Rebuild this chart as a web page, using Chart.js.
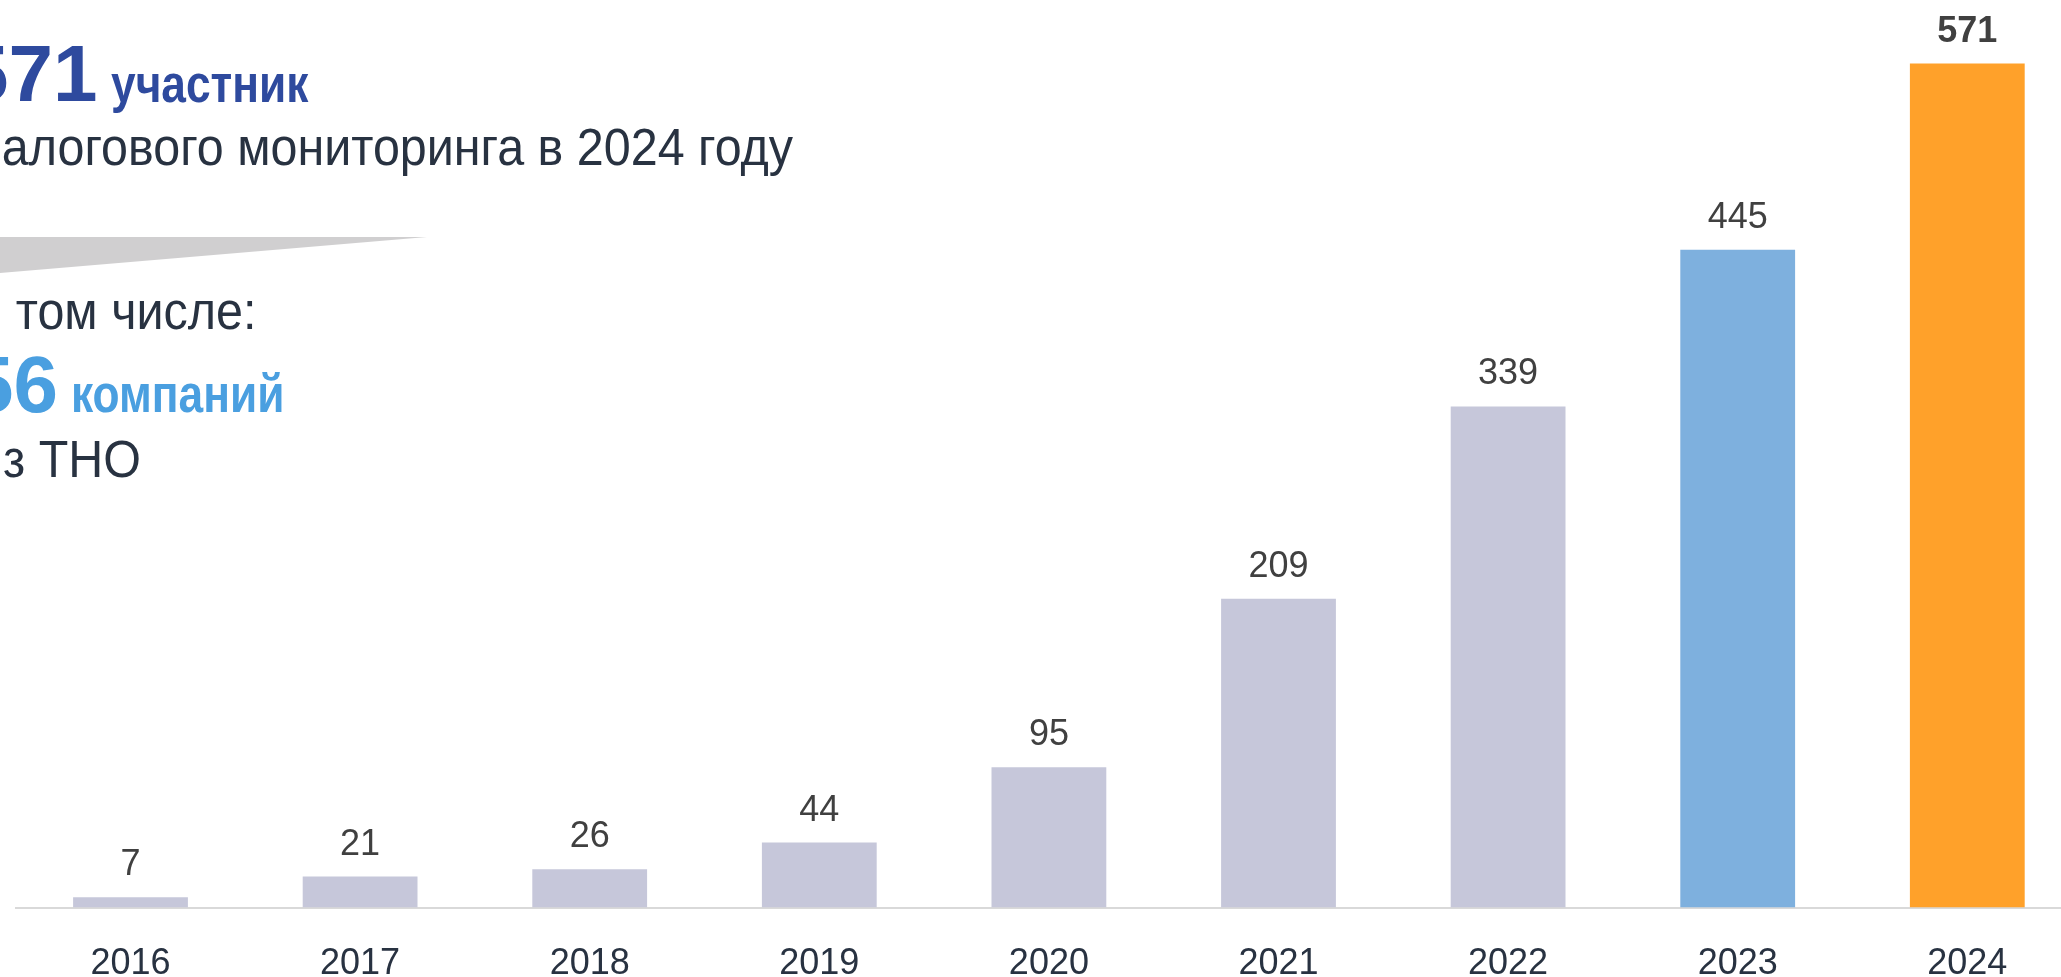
<!DOCTYPE html>
<html lang="ru">
<head>
<meta charset="utf-8">
<title>Участники налогового мониторинга</title>
<script src="https://cdn.jsdelivr.net/npm/chart.js@4.4.1/dist/chart.umd.min.js"></script>
<style>
  html, body { margin: 0; padding: 0; background: #fff; overflow: hidden; }
  body { width: 2061px; height: 977px; position: relative; font-family: 'Liberation Sans', Arial, sans-serif; }
  #chartWrap { position: absolute; left: 0; top: 0; width: 2100px; height: 1026px; }
  .note { position: absolute; white-space: nowrap; line-height: 1; transform-origin: 0 0; }
  .big { font-size: 80px; font-weight: bold; }
  .narrow { font-size: 54px; font-weight: bold; transform: scaleX(0.82); }
  .plain { font-size: 51px; color: #283241; transform: scaleX(0.95); }
  .navy { color: #2e4a9e; }
  .sky { color: #4a9fe0; }
  .wedge { position: absolute; left: 0; top: 237px; width: 427px; height: 36px; background: #d0cfd0;
           clip-path: polygon(0 0, 100% 0, 0 100%); }
</style>
</head>
<body>
  <div id="chartWrap"><canvas id="membersChart" width="2100" height="1026"></canvas></div>

  <span class="note big navy" style="left:-36px; top:34px;">571</span>
  <span class="note narrow navy" style="left:111px; top:56px;">участник</span>
  <span class="note plain" style="left:-25px; top:122px;">налогового мониторинга в 2024 году</span>
  <div class="wedge"></div>
  <span class="note plain" style="left:-30px; top:286px;">В том числе:</span>
  <span class="note big sky" style="left:-31px; top:345px;">56</span>
  <span class="note narrow sky" style="left:71px; top:366px;">компаний</span>
  <span class="note plain" style="left:-24px; top:434px;">из ТНО</span>

<script>
  // Участники налогового мониторинга по годам
  const YEARS = ['2016', '2017', '2018', '2019', '2020', '2021', '2022', '2023', '2024'];
  const MEMBERS = [7, 21, 26, 44, 95, 209, 339, 445, 571];

  const GRAY = '#c6c7da';
  const BLUE = '#7eb0de';
  const ORANGE = '#ffa12a';
  const FONT = "'Liberation Sans', Arial, sans-serif";

  function barColor(i) {
    if (i === MEMBERS.length - 1) return ORANGE;
    if (i === MEMBERS.length - 2) return BLUE;
    return GRAY;
  }

  // подписи значений над столбцами
  const valueLabels = {
    id: 'valueLabels',
    afterDatasetsDraw: function (chart) {
      const ctx = chart.ctx;
      const bars = chart.getDatasetMeta(0).data;
      ctx.save();
      ctx.textAlign = 'center';
      ctx.textBaseline = 'alphabetic';
      ctx.fillStyle = '#404040';
      bars.forEach(function (bar, i) {
        const last = i === bars.length - 1;
        ctx.font = (last ? 'bold ' : '') + '36px ' + FONT;
        ctx.fillText(String(MEMBERS[i]), bar.x, bar.y - 22);
      });
      ctx.restore();
    }
  };

  new Chart(document.getElementById('membersChart'), {
    type: 'bar',
    data: {
      labels: YEARS,
      datasets: [{
        data: MEMBERS,
        backgroundColor: MEMBERS.map(function (_v, i) { return barColor(i); }),
        borderWidth: 0,
        barPercentage: 0.5,
        categoryPercentage: 1
      }]
    },
    options: {
      responsive: false,
      animation: false,
      devicePixelRatio: 1,
      layout: { padding: { left: 15.7, right: 17.9, top: 0, bottom: 6.4 } },
      plugins: {
        legend: { display: false },
        tooltip: { enabled: false }
      },
      scales: {
        x: {
          grid: { display: false, drawTicks: false },
          border: { display: true, color: '#d9d9d9', width: 2 },
          ticks: { color: '#283241', padding: 34.4, font: { family: FONT, size: 36 } }
        },
        y: {
          display: false,
          min: 0,
          max: 614
        }
      }
    },
    plugins: [valueLabels]
  });
</script>
</body>
</html>
